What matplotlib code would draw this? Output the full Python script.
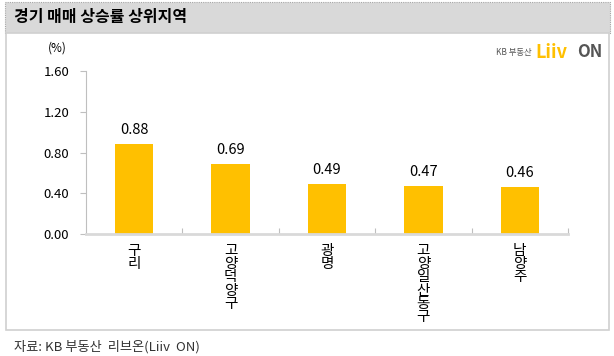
import matplotlib.pyplot as plt
from matplotlib.patches import Rectangle

plt.rcParams['font.family'] = ['Noto Sans CJK KR', 'DejaVu Sans']

# data
regions = ['구리', '고양 덕양구', '광명', '고양 일산동구', '남양주']
values = [0.88, 0.69, 0.49, 0.47, 0.46]
yticks = [0.0, 0.4, 0.8, 1.2, 1.6]

W, H = 614, 356
fig = plt.figure(figsize=(W / 100, H / 100), dpi=100)

# title bar and chart panel
fig.patches.append(Rectangle((5 / W, 1 - 33 / H), 605 / W, 31 / H, transform=fig.transFigure,
                             facecolor='#d9d9d9', edgecolor='#a6a6a6', linestyle=(0, (1, 1)),
                             linewidth=0.8, zorder=-2))
fig.patches.append(Rectangle((6 / W, 1 - 330 / H), 603 / W, 297 / H, transform=fig.transFigure,
                             facecolor='white', edgecolor='#d0d0d0', linewidth=1.2, zorder=-2))
fig.text(14 / W, 1 - 17 / H, '경기 매매 상승률 상위지역', fontsize=11.5, fontweight='bold',
         va='center', ha='left')
fig.text(14 / W, 1 - 347 / H, '자료: KB 부동산  리브온(Liiv  ON)', fontsize=9.5,
         va='center', ha='left', color='#333333')

# logo
fig.text(532 / W, 1 - 52 / H, 'KB 부동산', fontsize=6, ha='right', va='center', color='#555555')
fig.text(535 / W, 1 - 52 / H, 'Liiv', fontsize=13, fontweight='bold', ha='left', va='center',
         color='#ffc000')
fig.text(577 / W, 1 - 52 / H, 'ON', fontsize=12, fontweight='bold', ha='left', va='center',
         color='#555555')

ax = fig.add_axes([86 / W, 1 - 234 / H, (568 - 86) / W, (234 - 71) / H])
ax.patch.set_alpha(0)
x = range(len(regions))
ax.bar(x, values, width=0.4, color='#ffc000')
for xi, v in zip(x, values):
    ax.text(xi, v + 0.07, f'{v:.2f}', ha='center', va='bottom', fontsize=10.5)

ax.set_xlim(-0.5, len(regions) - 0.5)
ax.set_ylim(0, 1.6)
ax.set_yticks(yticks)
ax.set_yticklabels([f'{t:.2f}' for t in yticks], fontsize=9.5)
ax.set_xticks([i + 0.5 for i in range(len(regions))])
ax.set_xticklabels([])
ax.tick_params(axis='x', length=4, color='#bfbfbf', direction='in')
ax.tick_params(axis='y', length=4, color='#bfbfbf', pad=8)

for i, name in enumerate(regions):
    label = '\n'.join(name.replace(' ', ''))
    ax.text(i, -0.1, label, ha='center', va='top', fontsize=10.5, linespacing=0.92)

for s in ['top', 'right']:
    ax.spines[s].set_visible(False)
ax.spines['left'].set_color('#bfbfbf')
ax.spines['bottom'].set_color('#d9d9d9')
ax.spines['bottom'].set_linewidth(2)

ax.text(-0.06, 1.14, '(%)', transform=ax.transAxes, fontsize=8.5, ha='center', va='center')

fig.savefig('out.png', dpi=100)
